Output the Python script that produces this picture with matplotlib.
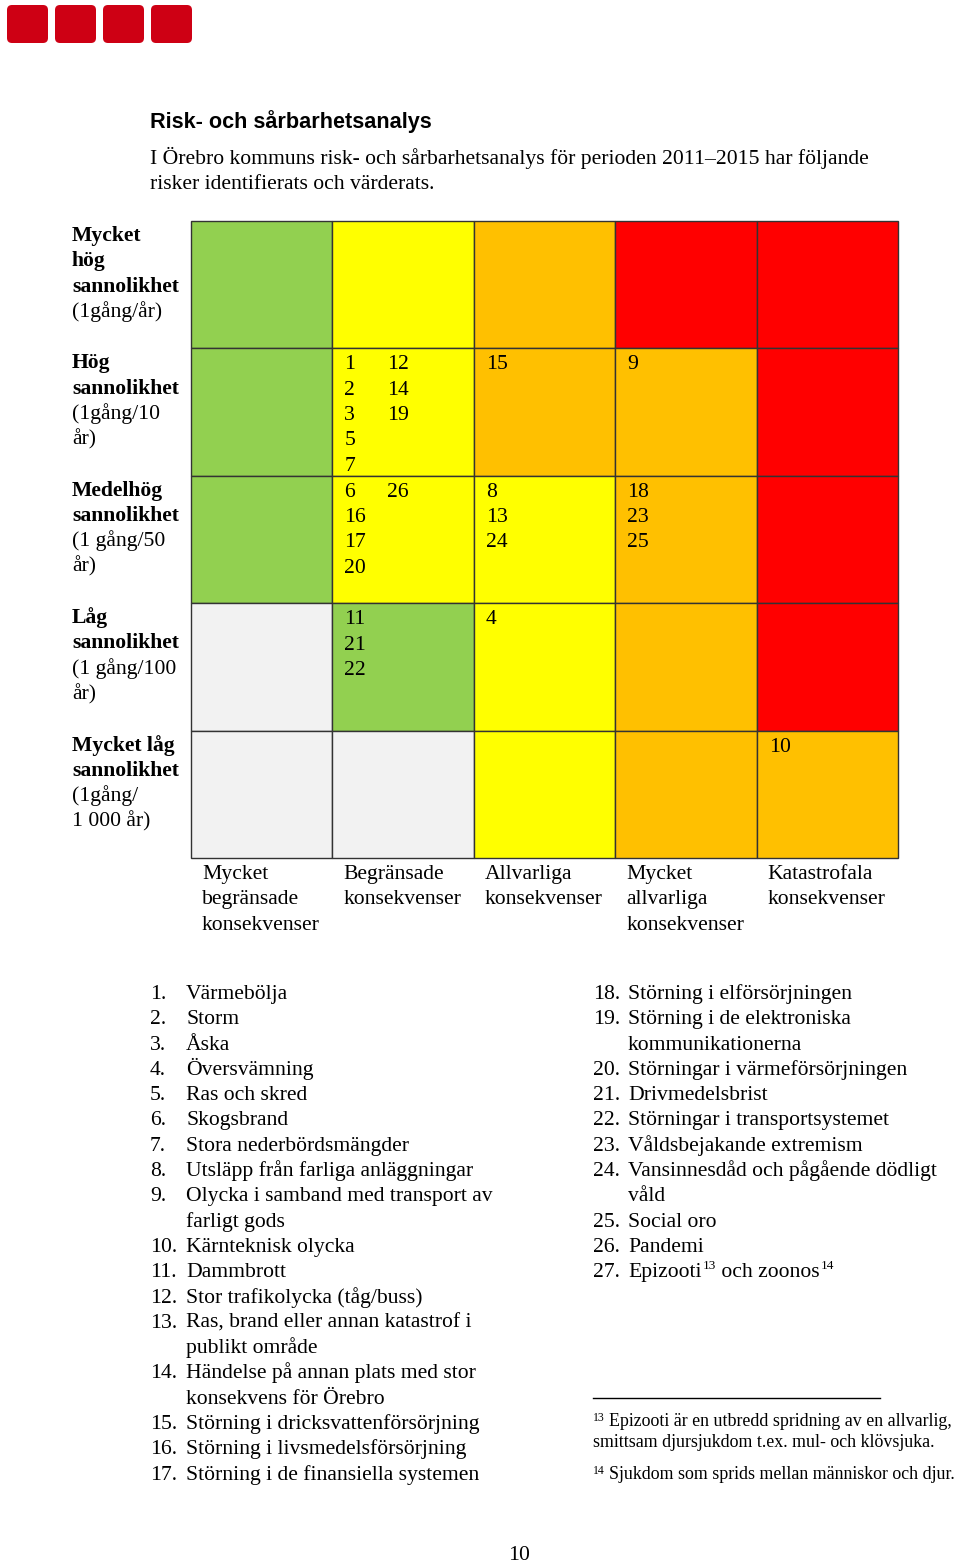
import matplotlib.pyplot as plt
from matplotlib.patches import Rectangle, FancyBboxPatch

# risk levels per cell: rows = likelihood (high -> low), cols = consequence (low -> high)
levels = [[1, 2, 3, 4, 4],
          [1, 2, 3, 3, 4],
          [1, 2, 2, 3, 4],
          [0, 1, 2, 3, 4],
          [0, 0, 2, 3, 3]]
level_colors = ['#F2F2F2', '#92D050', '#FFFF00', '#FFC000', '#FF0000']

# risk numbers placed in each cell (list of sub-columns)
cell_risks = {(1, 1): [[1, 2, 3, 5, 7], [12, 14, 19]],
              (1, 2): [[15]],
              (1, 3): [[9]],
              (2, 1): [[6, 16, 17, 20], [26]],
              (2, 2): [[8, 13, 24]],
              (2, 3): [[18, 23, 25]],
              (3, 1): [[11, 21, 22]],
              (3, 2): [[4]],
              (4, 4): [[10]]}

row_bold = ["Mycket\nhög\nsannolikhet", "Hög\nsannolikhet", "Medelhög\nsannolikhet",
            "Låg\nsannolikhet", "Mycket låg\nsannolikhet"]
row_freq = ["(1gång/år)", "(1gång/10\når)", "(1 gång/50\når)", "(1 gång/100\når)",
            "(1gång/\n1 000 år)"]
col_labels = ["Mycket\nbegränsade\nkonsekvenser", "Begränsade\nkonsekvenser",
              "Allvarliga\nkonsekvenser", "Mycket\nallvarliga\nkonsekvenser",
              "Katastrofala\nkonsekvenser"]

risks_left = ["Värmebölja", "Storm", "Åska", "Översvämning", "Ras och skred", "Skogsbrand",
              "Stora nederbördsmängder", "Utsläpp från farliga anläggningar",
              "Olycka i samband med transport av\nfarligt gods", "Kärnteknisk olycka",
              "Dammbrott", "Stor trafikolycka (tåg/buss)",
              "Ras, brand eller annan katastrof i\npublikt område",
              "Händelse på annan plats med stor\nkonsekvens för Örebro",
              "Störning i dricksvattenförsörjning", "Störning i livsmedelsförsörjning",
              "Störning i de finansiella systemen"]
risks_right = ["Störning i elförsörjningen", "Störning i de elektroniska\nkommunikationerna",
               "Störningar i värmeförsörjningen", "Drivmedelsbrist",
               "Störningar i transportsystemet", "Våldsbejakande extremism",
               "Vansinnesdåd och pågående dödligt\nvåld", "Social oro", "Pandemi"]

footnotes = [("13", "Epizooti är en utbredd spridning av en allvarlig,\nsmittsam djursjukdom t.ex. mul- och klövsjuka."),
             ("14", "Sjukdom som sprids mellan människor och djur.")]

serif = 'Liberation Serif'
fs = 15.6
step = 25.3
bl = 6  # baseline offset below visual line centre

fig = plt.figure(figsize=(9.6, 15.63), dpi=100)
ax = fig.add_axes([0, 0, 1, 1])
ax.set_xlim(0, 960)
ax.set_ylim(1563, 0)
ax.axis('off')
renderer = fig.canvas.get_renderer()

def txt(x, y, s, size=fs, **kw):
    return ax.text(x, y + bl, s, va='baseline', ha='left', family=serif, fontsize=size, **kw)

def lines(x, y, s, **kw):
    rows = s.split('\n')
    for i, ln in enumerate(rows):
        txt(x, y + i * step, ln, **kw)
    return y + len(rows) * step

# logo squares
for i in range(4):
    ax.add_patch(FancyBboxPatch((11 + i * 48, 9), 33, 30, boxstyle='round,pad=4,rounding_size=5',
                                fc='#CE0014', ec='none'))

ax.text(150, 128, "Risk- och sårbarhetsanalys", va='baseline', ha='left',
        family='Liberation Sans', fontweight='bold', fontsize=15.6)
lines(150, 158, "I Örebro kommuns risk- och sårbarhetsanalys för perioden 2011–2015 har följande\n"
                "risker identifierats och värderats.")

# matrix
x0, y0 = 191, 221
cw, rh = 141.4, 127.4
for r, row in enumerate(levels):
    for c, lv in enumerate(row):
        ax.add_patch(Rectangle((x0 + c * cw, y0 + r * rh), cw, rh, fc=level_colors[lv],
                               ec='#333333', lw=1.0))
for (r, c), groups in cell_risks.items():
    for g, nums in enumerate(groups):
        lines(x0 + c * cw + 12 + g * 43, y0 + r * rh + 15, "\n".join(str(n) for n in nums))

for r in range(5):
    y = lines(72, y0 + r * rh + 14, row_bold[r], fontweight='bold')
    lines(72, y, row_freq[r])
for c in range(5):
    lines(x0 + c * cw + 11, 873, col_labels[c])

# list of risks
y = 993
for i, name in enumerate(risks_left):
    txt(150, y, f"{i + 1}.")
    y = lines(186, y, name)
y = 993
n0 = len(risks_left)
for i, name in enumerate(risks_right):
    txt(593, y, f"{n0 + i + 1}.")
    y = lines(628, y, name)
txt(593, y, f"{n0 + len(risks_right) + 1}.")
xx = 628
for word, sup in [("Epizooti", "13"), (" och zoonos", "14")]:
    t = txt(xx, y, word)
    xx = t.get_window_extent(renderer).x1 + 1
    t = txt(xx, y - 8, sup, size=9.5)
    xx = t.get_window_extent(renderer).x1

# footnotes
ax.plot([593, 880], [1398, 1398], color='black', lw=1.0)
fy = 1420
for sup, note in footnotes:
    txt(593, fy - 5, sup, size=8.5)
    parts = note.split('\n')
    for j, ln in enumerate(parts):
        txt(609 if j == 0 else 593, fy + j * 21, ln, size=12.9)
    fy += len(parts) * 21 + 11

ax.text(519, 1560, "10", va='baseline', ha='center', family=serif, fontsize=fs)

fig.savefig('out.png', dpi=100)
